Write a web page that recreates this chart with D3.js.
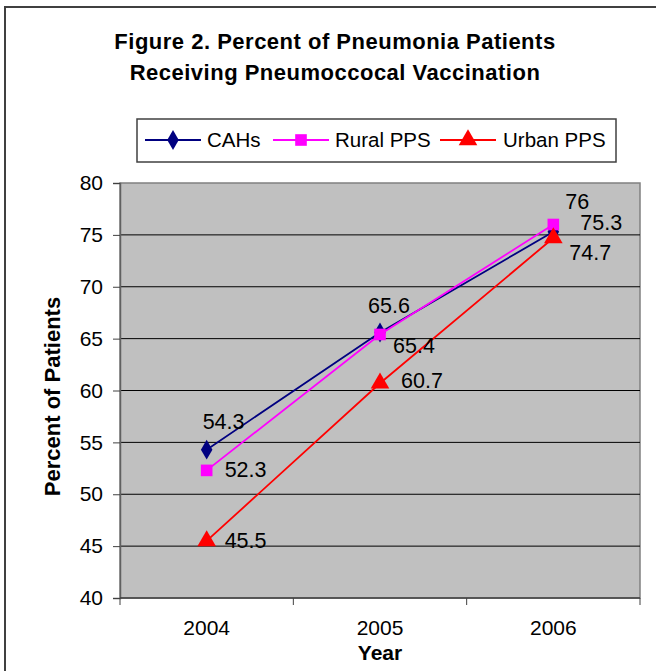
<!DOCTYPE html>
<html>
<head>
<meta charset="utf-8">
<script src="https://cdn.jsdelivr.net/npm/d3@7"></script>
<style>
  body { margin: 0; background: #fff; }
  svg { font-family: Arial, "Liberation Sans", sans-serif; }
</style>
</head>
<body>
<svg id="chart"></svg>
<script>
// chart values
var years = ['2004', '2005', '2006'];
var seriesNames = ['CAHs', 'Rural PPS', 'Urban PPS'];
var cahs = [54.3, 65.6, 75.3];
var ruralPps = [52.3, 65.4, 76];
var urbanPps = [45.5, 60.7, 74.7];
var yTicks = [40, 45, 50, 55, 60, 65, 70, 75, 80];

var width = 656;
var height = 671;

// where each data label sits relative to its point (x start, baseline)
var labelOffsets = [
  [[-4, -21], [-12, -19], [27, -2]],
  [[18, 7], [13, 19], [12, -16]],
  [[18, 7], [21, 5], [16, 22]]
];

var colors = ['#000080', '#ff00ff', '#ff0000'];
var symbols = [d3.symbolDiamond, d3.symbolSquare, d3.symbolTriangle];
var symbolSizes = [115, 135, 150];

var plot = { left: 120, top: 183, right: 640, bottom: 598 };

var svg = d3.select('#chart')
  .attr('width', width)
  .attr('height', height);

// outer frame (runs off the right and bottom edges)
svg.append('rect')
  .attr('x', 5).attr('y', 7)
  .attr('width', 700).attr('height', 700)
  .attr('fill', 'none')
  .attr('stroke', '#404040')
  .attr('stroke-width', 2);

// title
var title = svg.append('text')
  .attr('text-anchor', 'middle')
  .attr('font-weight', 'bold')
  .attr('font-size', 22)
  .attr('letter-spacing', 0.5)
  .attr('fill', '#000');
title.append('tspan').attr('x', 335).attr('y', 49).text('Figure 2. Percent of Pneumonia Patients');
title.append('tspan').attr('x', 335).attr('y', 80).text('Receiving Pneumoccocal Vaccination');

var x = d3.scaleBand()
  .domain(years)
  .range([plot.left, plot.right]);

var y = d3.scaleLinear()
  .domain([40, 80])
  .range([plot.bottom, plot.top]);

// plot area
svg.append('rect')
  .attr('x', plot.left).attr('y', plot.top)
  .attr('width', plot.right - plot.left)
  .attr('height', plot.bottom - plot.top)
  .attr('fill', '#c0c0c0')
  .attr('stroke', '#808080')
  .attr('stroke-width', 1.5);

// gridlines
svg.append('g')
  .selectAll('line')
  .data(yTicks.slice(1, -1))
  .enter().append('line')
    .attr('x1', plot.left).attr('x2', plot.right)
    .attr('y1', function (d) { return y(d); })
    .attr('y2', function (d) { return y(d); })
    .attr('stroke', '#000')
    .attr('stroke-width', 1);

// y axis
var yAxis = d3.axisLeft(y)
  .tickValues(yTicks)
  .tickSize(7)
  .tickPadding(10);

var yg = svg.append('g')
  .attr('transform', 'translate(' + plot.left + ',0)')
  .call(yAxis);
yg.select('.domain').attr('stroke', '#606060').attr('stroke-width', 1.5);
yg.selectAll('.tick line').attr('stroke', '#404040');
yg.selectAll('.tick text')
  .attr('font-size', 21)
  .attr('font-family', 'Arial, "Liberation Sans", sans-serif')
  .attr('fill', '#000');

// x axis: ticks sit on the category boundaries
var boundaries = years.map(function (d) { return x(d); }).concat([plot.right]);
var xg = svg.append('g');
xg.append('line')
  .attr('x1', plot.left).attr('x2', plot.right)
  .attr('y1', plot.bottom).attr('y2', plot.bottom)
  .attr('stroke', '#404040')
  .attr('stroke-width', 1.5);
xg.selectAll('.xtick')
  .data(boundaries)
  .enter().append('line')
    .attr('class', 'xtick')
    .attr('x1', function (d) { return d; })
    .attr('x2', function (d) { return d; })
    .attr('y1', plot.bottom)
    .attr('y2', plot.bottom + 7)
    .attr('stroke', '#404040');
xg.selectAll('.xlabel')
  .data(years)
  .enter().append('text')
    .attr('class', 'xlabel')
    .attr('x', function (d) { return x(d) + x.bandwidth() / 2; })
    .attr('y', 635)
    .attr('text-anchor', 'middle')
    .attr('font-size', 21)
    .text(function (d) { return d; });

// axis titles
svg.append('text')
  .attr('x', (plot.left + plot.right) / 2)
  .attr('y', 660)
  .attr('text-anchor', 'middle')
  .attr('font-size', 21)
  .attr('font-weight', 'bold')
  .text('Year');

svg.append('text')
  .attr('transform', 'translate(60,' + ((plot.top + plot.bottom) / 2 + 6) + ') rotate(-90)')
  .attr('text-anchor', 'middle')
  .attr('font-size', 22)
  .attr('font-weight', 'bold')
  .text('Percent of Patients');

// series
var seriesData = [cahs, ruralPps, urbanPps];
var line = d3.line()
  .x(function (d, i) { return x(years[i]) + x.bandwidth() / 2; })
  .y(function (d) { return y(d); });

seriesData.forEach(function (values, s) {
  var g = svg.append('g');
  g.append('path')
    .attr('d', line(values))
    .attr('fill', 'none')
    .attr('stroke', colors[s])
    .attr('stroke-width', 1.8);
  g.selectAll('path.mark')
    .data(values)
    .enter().append('path')
      .attr('class', 'mark')
      .attr('d', d3.symbol().type(symbols[s]).size(symbolSizes[s]))
      .attr('transform', function (d, i) {
        return 'translate(' + (x(years[i]) + x.bandwidth() / 2) + ',' + y(d) + ')';
      })
      .attr('fill', colors[s]);
});

// data labels
seriesData.forEach(function (values, s) {
  svg.append('g')
    .selectAll('text')
    .data(values)
    .enter().append('text')
      .attr('x', function (d, i) { return x(years[i]) + x.bandwidth() / 2 + labelOffsets[s][i][0]; })
      .attr('y', function (d, i) { return y(d) + labelOffsets[s][i][1]; })
      .attr('font-size', 21.5)
      .attr('fill', '#000')
      .text(function (d) { return d; });
});

// legend
var legend = svg.append('g');
legend.append('rect')
  .attr('x', 137).attr('y', 119)
  .attr('width', 479).attr('height', 43)
  .attr('fill', '#fff')
  .attr('stroke', '#404040')
  .attr('stroke-width', 1.5);

var legendItems = [
  { lx: 145, tx: 207 },
  { lx: 273, tx: 335 },
  { lx: 440, tx: 503 }
];
seriesNames.forEach(function (name, s) {
  var item = legendItems[s];
  legend.append('line')
    .attr('x1', item.lx).attr('x2', item.lx + 56)
    .attr('y1', 140).attr('y2', 140)
    .attr('stroke', colors[s])
    .attr('stroke-width', 1.8);
  legend.append('path')
    .attr('d', d3.symbol().type(symbols[s]).size(symbolSizes[s])())
    .attr('transform', 'translate(' + (item.lx + 28) + ',140)')
    .attr('fill', colors[s]);
  legend.append('text')
    .attr('x', item.tx)
    .attr('y', 147)
    .attr('font-size', 20.5)
    .text(name);
});
</script>
</body>
</html>
